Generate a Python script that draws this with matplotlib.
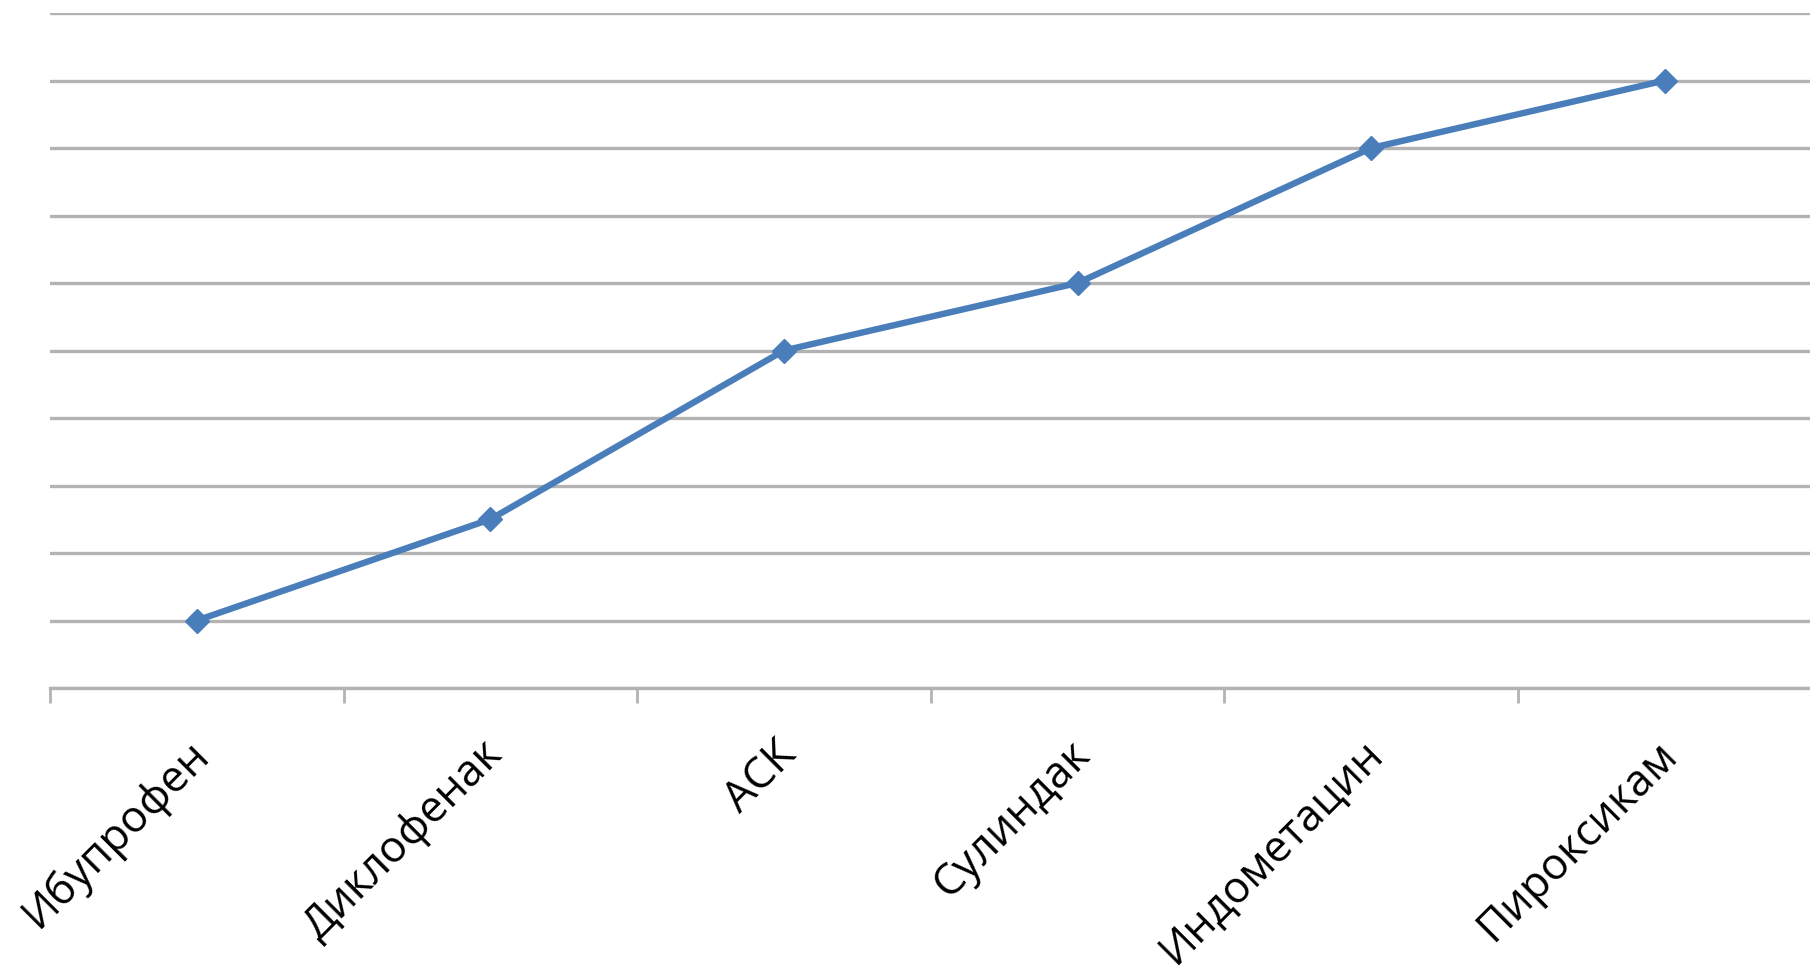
import matplotlib
matplotlib.use("Agg")
import matplotlib.pyplot as plt
from matplotlib.ticker import FixedLocator, MultipleLocator
from matplotlib.transforms import ScaledTranslation

plt.rcParams['font.family'] = ['Open Sans', 'DejaVu Sans']

drugs = ["Ибупрофен", "Диклофенак", "АСК", "Сулиндак", "Индометацин", "Пироксикам"]
scores = [1, 2.5, 5, 6, 8, 9]

line_blue = "#4a7ebb"
grid_gray = "#b3b3b3"

fig = plt.figure(figsize=(18.10, 9.76), dpi=100)
ax = fig.add_axes([50 / 1810, (976 - 688) / 976, 1761.6 / 1810, 675 / 976])

x = list(range(len(drugs)))
ax.plot(x, scores, color=line_blue, lw=4.6, marker="D", markersize=12,
        markerfacecolor=line_blue, markeredgecolor=line_blue, zorder=3,
        solid_joinstyle="round")

ax.set_xlim(-0.5, len(drugs) - 0.5)
ax.set_ylim(0, 10)

# horizontal gridlines every unit, no y labels
ax.yaxis.set_major_locator(MultipleLocator(1))
ax.tick_params(axis="y", left=False, labelleft=False)
ax.grid(axis="y", color=grid_gray, lw=2.4)
ax.set_axisbelow(True)

# category boundaries carry the tick marks, labels sit at the centres
ax.xaxis.set_major_locator(FixedLocator(x))
ax.xaxis.set_minor_locator(FixedLocator([i - 0.5 for i in range(len(drugs) + 1)]))
ax.tick_params(axis="x", which="major", length=0, pad=0)
ax.tick_params(axis="x", which="minor", length=11, width=2, color=grid_gray)
ax.set_xticklabels(drugs, rotation=45, ha="right", va="center",
                   rotation_mode="anchor", fontsize=31.5, color="#000000",
                   fontweight="medium")
offset = ScaledTranslation(6 / 100, -60 / 100, fig.dpi_scale_trans)
for lbl in ax.get_xticklabels():
    lbl.set_transform(lbl.get_transform() + offset)

for side in ("left", "right", "top"):
    ax.spines[side].set_visible(False)
ax.spines["bottom"].set_color(grid_gray)
ax.spines["bottom"].set_linewidth(2.4)

fig.savefig("out.png", dpi=100, facecolor="white")
